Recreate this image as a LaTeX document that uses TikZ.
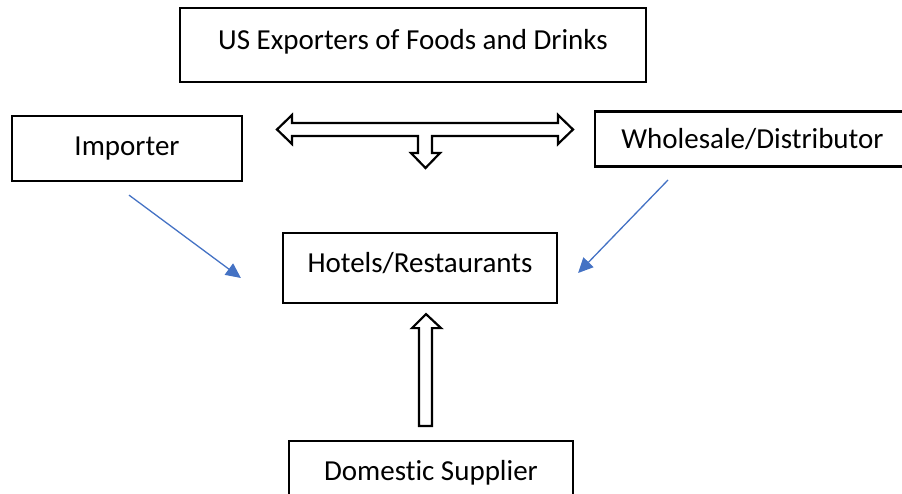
\documentclass[tikz,border=0pt]{standalone}
\usepackage{fontspec}
\setmainfont[Ligatures=NoCommon]{Carlito}
\usetikzlibrary{arrows.meta,calc}

\definecolor{officeblue}{HTML}{4472C4}

\begin{document}
\begin{tikzpicture}[
    x=1pt, y=-1pt,
    box/.style={
        draw,
        line width=2.2pt,
        inner sep=0pt,
        text height=18.7pt,
        text depth=0pt,
        font=\fontsize{29}{35}\selectfont
    },
    raised/.style={text depth=9.5pt},
    blockarrow/.style={draw, line width=2.2pt, fill=white, line join=miter},
    bluearrow/.style={officeblue, line width=1.3pt, -{Triangle[length=15pt,width=14pt]}}
]

\clip (0,0) rectangle (902,494);

% Nodes
\node[box, raised, minimum width=466pt, minimum height=74pt] (exporters) at (413,45) {US Exporters of Foods and Drinks};
\node[box, text depth=4pt, minimum width=230pt, minimum height=65pt] (importer) at (127,148.5) {Importer};
\node[box, minimum width=315pt, minimum height=55pt] (wholesale) at (752.5,139) {Wholesale/Distributor};
\node[box, raised, minimum width=274pt, minimum height=70pt] (hotels) at (420,268) {Hotels/Restaurants};
\node[box, minimum width=284pt, minimum height=61pt] (supplier) at (431,471.5) {Domestic Supplier};

% Hollow T arrow (left, right and down)
\draw[blockarrow] (277,129.5) -- (292,115) -- (292,123) -- (558,123) -- (558,115)
    -- (573,129.5) -- (558,144) -- (558,136) -- (432,136) -- (432,153) -- (440,153)
    -- (425.5,168) -- (411,153) -- (418,153) -- (418,136) -- (292,136) -- (292,144) -- cycle;

% Hollow up arrow (supplier to hotels)
\coordinate (uptip) at ($(hotels.south)+(6,10)$);
\coordinate (upbase) at ($(supplier.north)+(-5.5,-14)$);
\draw[blockarrow] (uptip) -- ++(15,14) -- ++(-9,0) -- (upbase -| {$(uptip)+(6,0)$}) -- ++(-13,0)
    |- ($(uptip)+(-7,14)$) -- ++(-7,0) -- cycle;

% Blue arrows into hotels
\coordinate (impstart) at ($(importer.south)+(2,13)$);
\coordinate (impend) at ($(hotels.west)+(-41,10)$);
\draw[bluearrow] (impstart) -- (impend);

\coordinate (whstart) at (668,180);
\coordinate (whend) at ($(hotels.east)+(20,5)$);
\draw[bluearrow] (whstart) -- (whend);

\end{tikzpicture}
\end{document}
